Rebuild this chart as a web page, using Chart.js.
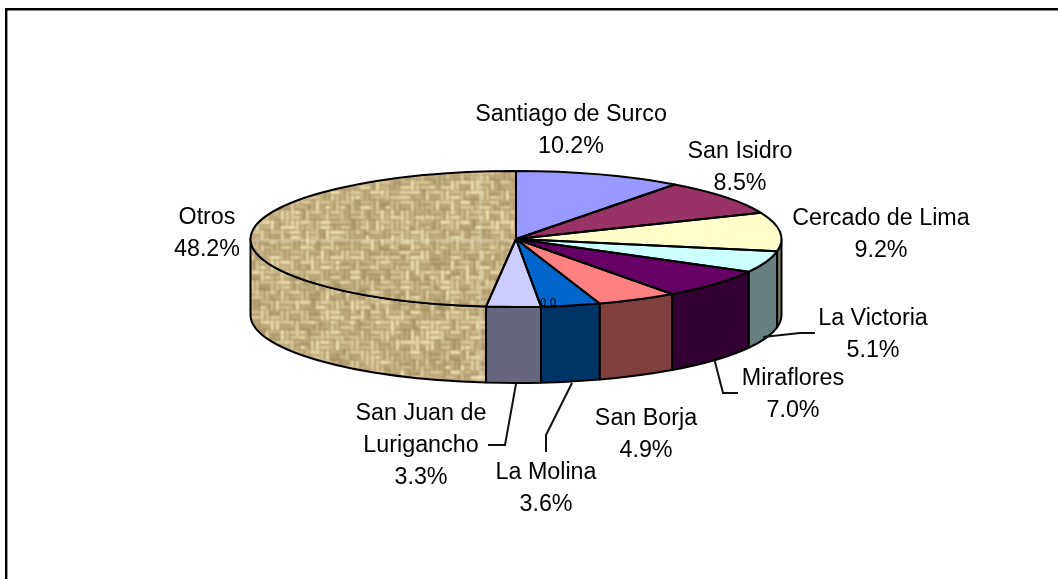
<!DOCTYPE html>
<html>
<head>
<meta charset="utf-8">
<style>
html,body{margin:0;padding:0;background:#fff;overflow:hidden}
#wrap{position:absolute;left:0;top:0;width:1058px;height:579px}
</style>
<script src="https://cdn.jsdelivr.net/npm/chart.js@4"></script>
</head>
<body>
<div id="wrap"><canvas id="c" width="1058" height="579"></canvas></div>
<script>
const categories = ['Santiago de Surco','San Isidro','Cercado de Lima','La Victoria','Miraflores','San Borja','La Molina','San Juan de Lurigancho','Otros'];
const values = [10.2,8.5,9.2,5.1,7.0,4.9,3.6,3.3,48.2];
const topColors = ['#9999FF','#993366','#FFFFCC','#CCFFFF','#660066','#FF8080','#0066CC','#CCCCFF',null];
const sideColors = ['#4D4D80','#4D1A33','#808066','#668080','#330033','#804040','#003366','#666680',null];
const labelLines = [['Santiago de Surco'],['San Isidro'],['Cercado de Lima'],['La Victoria'],['Miraflores'],['San Borja'],['La Molina'],['San Juan de','Lurigancho'],['Otros']];
const labelPos = [[571,115],[740,152],[881,219],[873,319],[793,379],[646,419],[546,473],[421,414],[207,218]];
const leaders = [
  [[763,337],[800,333],[815,333]],
  [[714,358],[723,393],[738,393]],
  [[572,383],[546,435],[546,452]],
  [[516,384],[505,445],[488,445]]
];
const CX=516, CY=239, RX=265.5, RY=68, DEPTH=76;
const AREA_CY=289.5;
const K=RY/RX;

function makeTexture(){
  const s=240, cell=5;
  const raw=document.createElement('canvas'); raw.width=raw.height=s;
  const g=raw.getContext('2d');
  g.fillStyle='#BFA57A'; g.fillRect(0,0,s,s);
  const n=s/cell;
  const h=(a,b)=>{let x=(a*374761393+b*668265263)|0; x=Math.imul(x^(x>>>13),1274126177); return ((x^(x>>>16))>>>0)/4294967295;};
  const shade=v=>{
    const r=Math.round(120+125*v), gg=Math.round(92+138*v), b=Math.round(52+130*v);
    return 'rgb('+r+','+gg+','+b+')';
  };
  for(let j=0;j<n;j++){
    for(let i=0;i<n;i++){
      const t=h(i,j);
      const horiz=(((i>>1)+(j>>1))%2===0)!==(t>0.88);
      const px=i*cell, py=j*cell;
      const seg=horiz?h(i>>1,j+501):h(i+907,j>>1);
      const c=Math.min(1,Math.max(0,0.48+0.52*seg+0.1*(h(i+101,j+57)-0.5)));
      if(horiz){
        g.fillStyle=shade(c); g.fillRect(px,py+1,cell,3);
        g.fillStyle=shade(c*0.4); g.fillRect(px,py+4,cell,1);
      }else{
        g.fillStyle=shade(c); g.fillRect(px+1,py,3,cell);
        g.fillStyle=shade(c*0.4); g.fillRect(px+4,py,1,cell);
      }
    }
  }
  const out=document.createElement('canvas'); out.width=out.height=s;
  const o=out.getContext('2d');
  o.filter='blur(0.8px)';
  for(let dx=-s;dx<=s;dx+=s) for(let dy=-s;dy<=s;dy+=s) o.drawImage(raw,dx,dy);
  o.filter='none';
  return out;
}
const probe=document.createElement('canvas').getContext('2d');
const tex=makeTexture();
const sidePattern=probe.createPattern(tex,'repeat');
const topPattern=probe.createPattern(tex,'repeat');
topPattern.setTransform(new DOMMatrix().translate(CX,AREA_CY).scale(1,1/K).translate(-CX,-CY));
topColors[8]=topPattern;
sideColors[8]=sidePattern;

const pie3d={
  id:'pie3d',
  beforeDatasetsDraw(chart){
    const ctx=chart.ctx;
    const arcs=chart.getDatasetMeta(0).data;
    arcs.forEach((arc,i)=>{
      const a=Math.max(arc.startAngle,0), b=Math.min(arc.endAngle,Math.PI);
      if(b<=a) return;
      ctx.save();
      ctx.beginPath();
      ctx.ellipse(CX,CY,RX,RY,0,a,b,false);
      ctx.ellipse(CX,CY+DEPTH,RX,RY,0,b,a,true);
      ctx.closePath();
      ctx.fillStyle=sideColors[i];
      ctx.fill();
      ctx.lineWidth=2; ctx.strokeStyle='#000'; ctx.lineJoin='round';
      ctx.stroke();
      ctx.restore();
    });
    ctx.save();
    ctx.translate(CX,CY);
    ctx.scale(1,K);
    ctx.translate(-CX,-AREA_CY);
  },
  afterDatasetsDraw(chart){
    const ctx=chart.ctx;
    ctx.restore();
    const arcs=chart.getDatasetMeta(0).data;
    ctx.save();
    ctx.lineWidth=2; ctx.strokeStyle='#000'; ctx.lineJoin='round';
    arcs.forEach(arc=>{
      ctx.beginPath();
      ctx.moveTo(CX,CY);
      ctx.ellipse(CX,CY,RX,RY,0,arc.startAngle,arc.endAngle,false);
      ctx.closePath();
      ctx.stroke();
    });
    ctx.lineWidth=2; ctx.lineJoin='miter'; ctx.strokeStyle='#111';
    leaders.forEach(l=>{
      ctx.beginPath();
      l.forEach((p,i)=>i?ctx.lineTo(p[0],p[1]):ctx.moveTo(p[0],p[1]));
      ctx.stroke();
    });
    ctx.fillStyle='#000'; ctx.textAlign='center'; ctx.textBaseline='middle';
    ctx.font='23.3px "Liberation Sans", Arial, sans-serif';
    categories.forEach((c,i)=>{
      const lines=labelLines[i].concat(values[i].toFixed(1)+'%');
      lines.forEach((t,k)=>ctx.fillText(t,labelPos[i][0],labelPos[i][1]+k*31.7));
    });
    ctx.font='11px "Liberation Sans", Arial, sans-serif';
    ctx.fillStyle='#000';
    ctx.fillText('0',543,303);
    ctx.fillText('0',553,303);
    ctx.strokeStyle='#000'; ctx.lineWidth=2.4;
    ctx.beginPath();
    ctx.moveTo(6.2,579); ctx.lineTo(6.2,9.2); ctx.lineTo(1058,9.2);
    ctx.stroke();
    ctx.restore();
  }
};

new Chart(document.getElementById('c'),{
  type:'pie',
  data:{labels:categories,datasets:[{data:values,backgroundColor:topColors,borderWidth:0,hoverOffset:0}]},
  options:{
    responsive:false,animation:false,
    layout:{padding:{left:CX-RX,right:1058-CX-RX,top:AREA_CY-RX,bottom:579-AREA_CY-RX}},
    plugins:{legend:{display:false},tooltip:{enabled:false},title:{display:false}}
  },
  plugins:[pie3d]
});
</script>
</body>
</html>
